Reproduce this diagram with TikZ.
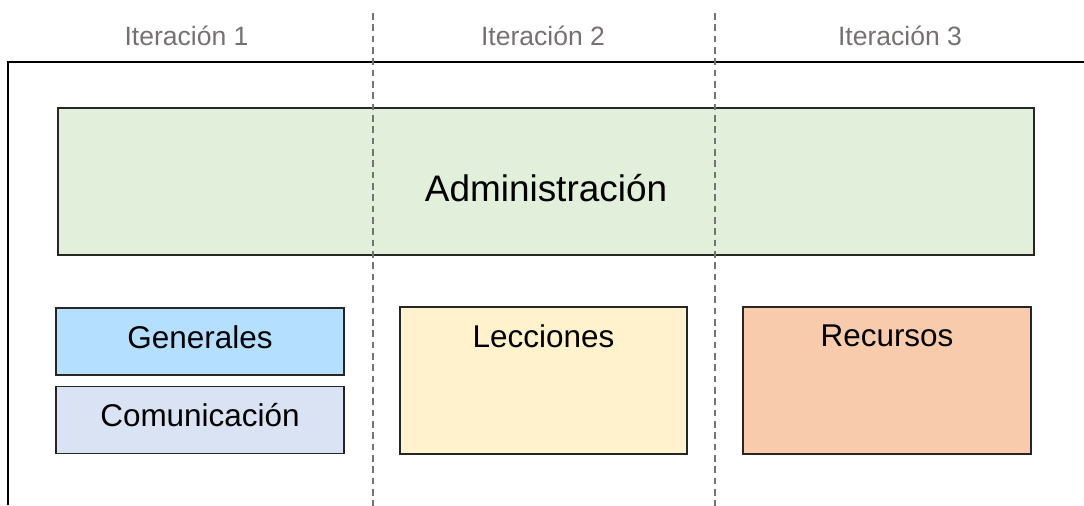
\documentclass[tikz,border=0pt]{standalone}
\usepackage{fontspec}
\setmainfont{Liberation Sans}
\usepackage{xcolor}
\usetikzlibrary{calc}
\definecolor{admincol}{HTML}{E2EFDA}
\definecolor{gencol}{HTML}{B4DFFF}
\definecolor{comcol}{HTML}{DAE3F3}
\definecolor{leccol}{HTML}{FFF2CC}
\definecolor{reccol}{HTML}{F8CBAD}
\definecolor{itercol}{HTML}{767171}
\tikzset{box/.style = {draw=black!85, line width=1pt, inner sep=0pt, font=\fontsize{23.6}{28}\selectfont}}
\tikzset{smallbox/.style = {box, minimum width=216pt, minimum height=50.25pt}}
\tikzset{bigbox/.style = {box, minimum width=216pt, minimum height=110.25pt}}
\tikzset{toplabel/.style = {anchor=north, inner sep=0pt, yshift=-13.5pt, font=\fontsize{23.6}{28}\selectfont}}
\tikzset{iter/.style = {anchor=base, text=itercol, font=\fontsize{19.9}{24}\selectfont}}
\tikzset{divider/.style = {draw=black!55, line width=1.3pt, dash pattern=on 5pt off 3.5pt}}

\begin{document}
\begin{tikzpicture}[x=0.75pt, y=-0.75pt]
                    \useasboundingbox (0,0) rectangle (1084,506);

                    \node[iter] (it1) at (186.5,45.7) {Iteración 1};
                    \node[iter] (it2) at (543,45.7) {Iteración 2};
                    \node[iter] (it3) at (900,45.7) {Iteración 3};

                    \coordinate (tl) at (8,62);
                    \coordinate (tr) at (1084,62);
                    \coordinate (bl) at (8,505);
                    \draw[line width=1.5pt] (bl) -- (tl) -- (tr);

                    \node[box, fill=admincol, minimum width=732pt, minimum height=110.25pt, font=\fontsize{27.7}{33}\selectfont] (admin) at (546,181.5) {\raisebox{-14.9pt}[0pt][0pt]{Administración}};

                    \node[smallbox, fill=gencol] (gen) at (200,341.5) {\raisebox{-5.2pt}[0pt][0pt]{Generales}};
                    \node[smallbox, fill=comcol] (com) at (200,420) {\raisebox{-4.7pt}[0pt][0pt]{Comunicación}};
                    \node[bigbox, fill=leccol, minimum width=215.25pt, label={[toplabel]north:Lecciones}] (lec) at (543.5,380.5) {};
                    \node[bigbox, fill=reccol, label={[toplabel]north:Recursos}] (rec) at (887,380.5) {};

                    \coordinate (d1t) at (373,13);
                    \coordinate (d1b) at (373,506);
                    \coordinate (d2t) at (715,13);
                    \coordinate (d2b) at (715,506);
                    \draw[divider] (d1t) -- (d1b);
                    \draw[divider] (d2t) -- (d2b);
                \end{tikzpicture}
\end{document}
